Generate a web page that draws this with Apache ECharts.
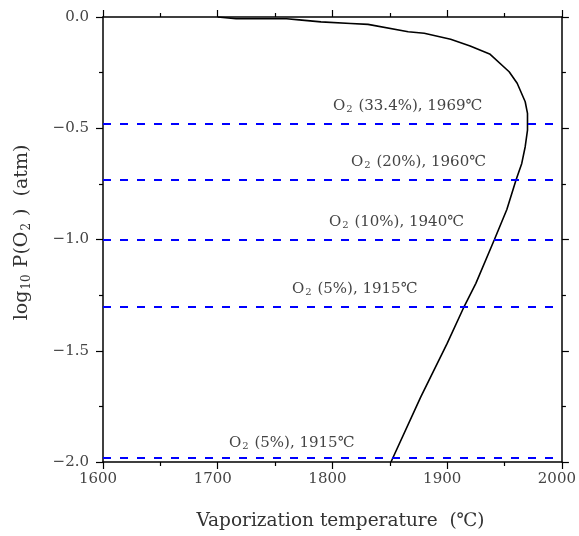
<!DOCTYPE html>
<html>
<head>
<meta charset="utf-8">
<script src="https://cdn.jsdelivr.net/npm/echarts@6/dist/echarts.min.js"></script>
<style>html,body{margin:0;padding:0;background:#fff}#c{width:579px;height:536px}</style>
</head>
<body>
<div id="c"></div>
<script>
// Vaporization temperature curve (℃ vs log10 P(O2))
var curveT = [1700, 1716, 1760, 1771, 1790, 1816, 1831, 1866, 1880, 1903, 1920, 1937, 1954, 1961, 1968, 1970, 1970, 1968, 1965, 1960, 1952, 1941, 1925, 1915, 1900, 1877, 1851];
var curveLogP = [0, -0.008, -0.008, -0.013, -0.022, -0.029, -0.033, -0.066, -0.073, -0.100, -0.130, -0.166, -0.246, -0.298, -0.381, -0.433, -0.508, -0.583, -0.658, -0.733, -0.865, -1.002, -1.197, -1.299, -1.467, -1.707, -2.0];
// Oxygen levels (dashed lines)
var o2LineLogP = [-0.476, -0.728, -1.0, -1.3, -1.98];
var o2Percent = ['33.4%', '20%', '10%', '5%', '5%'];
var o2Temp = ['1969', '1960', '1940', '1915', '1915'];
var xTicks = [1600, 1700, 1800, 1900, 2000];
var yTicks = [0, -0.5, -1.0, -1.5, -2.0];

var FONT = '"DejaVu Serif", "Liberation Serif", serif';
var TXT = '#444';
var subStyle = { fontSize: 10, fontFamily: FONT, color: TXT, padding: [7, 1, 0, 1] };

// per-label horizontal/vertical offsets (layout only)
var labelShift = [[230, 9], [248, 9], [226, 9], [189, 9], [126, 6]];

var chart = echarts.init(document.getElementById('c'));

function axisCommon() {
  return {
    type: 'value',
    axisLine: { show: true, onZero: false, lineStyle: { color: '#000', width: 1.5 } },
    splitLine: { show: false },
    minorTick: { show: true, splitNumber: 2, length: 4, lineStyle: { color: '#000', width: 1.2 } },
    axisTick: { show: true, inside: false, length: 7, lineStyle: { color: '#000', width: 1.2 } }
  };
}

var xb = axisCommon();
Object.assign(xb, {
  position: 'bottom', min: xTicks[0], max: xTicks[xTicks.length - 1], interval: 100,
  name: 'Vaporization temperature  (℃)', nameLocation: 'middle', nameGap: 50,
  nameTextStyle: { fontFamily: FONT, fontSize: 18.5, color: '#333', padding: [0, 0, 0, 16] },
  axisLabel: { fontFamily: FONT, fontSize: 15, color: TXT, margin: 10, padding: [0, 10, 0, 0],
    formatter: function (v) { return String(v); } }
});
var xt = axisCommon();
Object.assign(xt, {
  position: 'top', min: xTicks[0], max: xTicks[xTicks.length - 1], interval: 100,
  axisLabel: { show: false }
});
var yl = axisCommon();
Object.assign(yl, {
  position: 'left', min: yTicks[yTicks.length - 1], max: yTicks[0], interval: 0.5,
  name: 'log{s|10} P(O{s|2} )  (atm)', nameLocation: 'middle', nameGap: 70,
  nameTextStyle: { fontFamily: FONT, fontSize: 19, color: '#333', padding: [0, 0, 0, 14],
    rich: { s: { fontSize: 12, fontFamily: FONT, color: '#333', padding: [9, 1, 0, 1] } } },
  axisLabel: { fontFamily: FONT, fontSize: 15, color: TXT, margin: 14,
    formatter: function (v) { return v.toFixed(1).replace('-', '\u2212'); } }
});
var yr = axisCommon();
Object.assign(yr, {
  position: 'right', min: yTicks[yTicks.length - 1], max: yTicks[0], interval: 0.5,
  axisLabel: { show: false }
});

var curveData = curveT.map(function (t, i) { return [t, curveLogP[i]]; });

var markData = o2LineLogP.map(function (v, i) {
  return {
    yAxis: v,
    label: {
      show: true, position: 'insideStartTop', distance: labelShift[i],
      formatter: 'O{s|2} (' + o2Percent[i] + '), ' + o2Temp[i] + '℃',
      fontFamily: FONT, fontSize: 15, color: TXT,
      rich: { s: subStyle }
    }
  };
});

chart.setOption({
  animation: false,
  grid: { left: 103, right: 14, top: 17, bottom: 74 },
  xAxis: [xb, xt],
  yAxis: [yl, yr],
  series: [
    {
      type: 'line', data: curveData, showSymbol: false, symbol: 'none',
      lineStyle: { color: '#000', width: 1.6 },
      markLine: {
        silent: true, symbol: ['none', 'none'],
        lineStyle: { color: '#0000ff', type: [8, 9], width: 2 },
        data: markData
      }
    }
  ]
});
</script>
</body>
</html>
